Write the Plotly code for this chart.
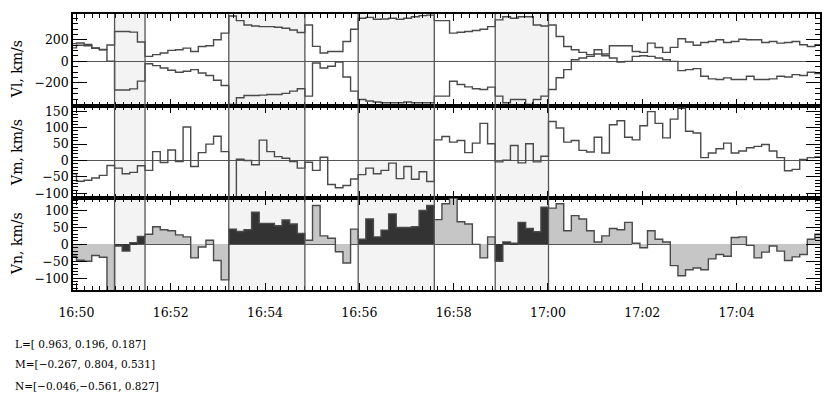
import numpy as np
import pandas as pd
import plotly.graph_objects as go
from plotly.subplots import make_subplots

# ---------------- data ----------------
T_START = "2000-01-01 16:49:50.45"   # start of first sample interval
DT_SEC = 9.686                        # sample interval (s)

vl_a = [165, 170, 158, 125, 110, 152,
        277, 277, 272, 180,
        46, 62, 77, 102, 108, 123, 92, 138, 145, 200, 262,
        421, 378, 338, 329, 323, 323, 317, 308, 292, 268,
        338, 139, 77, 92, 92, 185, 298,
        400, 409, 391, 394, 400, 391, 400, 415, 425, 430,
        378, 378, 262, 271, 277, 286, 298, 323,
        385, 415, 400, 415, 415, 338, 329,
        338, 231, 138, 108, 83, 62, 108, 68, 145, 145, 145, 92, 83, 169, 129, 83, 130, 210, 180, 150,
        175, 185, 200, 175, 185, 206, 200, 200, 175, 185, 169, 175, 185, 154, 138, 154]

vl_b = [125, 150, 145, 122, 108, 2,
        -267, -267, -256, -184,
        -22, -40, -62, -83, -102, -92, -77, -108, -132, -175, -225,
        -400, -338, -317, -317, -314, -308, -308, -298, -277, -255,
        -323, -15, -62, -46, -6, -145, -277,
        -354, -369, -378, -385, -385, -385, -378, -385, -385, -385,
        -323, -323, -185, -215, -237, -255, -262, -240,
        -323, -385, -354, -354, -400, -354, -323,
        -261, -153, -77, 15, 31, 46, 68, 52, 31, -6, 0, 46, 52, 46, 31, 15, 0, -86, -77, -68,
        -138, -163, -169, -154, -169, -169, -138, -169, -169, -163, -138, -145, -123, -132, -102, -114]

vm = [-40, -63, -60, -53, -45, -15,
      -23, -40, -36, -16,
      -30, 27, -6, 32, -3, 102, -18, 24, 50, 74, 27,
      -118, 4, 0, -13, 62, 27, 12, 7, -3, -23,
      -5, -30, 10, -73, -83, -76, -56,
      -43, -23, -40, -30, -8, -55, -18, -57, -34, -64,
      63, 73, 56, 61, 24, 53, 113, 51,
      -4, 1, 46, -7, 51, -4, 13,
      119, 99, 56, 61, 31, 26, 71, 23, 109, 121, 71, 63, 106, 149, 113, 69, 126, 159,
      89, 84, 9, 23, 36, 53, 23, 29, 39, 43, 49, 29, 9, -31, -27, 3, 9, 11]

vn = [-35, -47, -50, -33, -38, -140,
      -5, -20, 5, 23,
      30, 52, 43, 40, 28, 22, -40, -8, 12, -48, -105,
      45, 38, 43, 95, 62, 62, 55, 72, 60, 32,
      12, 115, 25, 18, -22, -55, 45,
      15, 75, 22, 42, 90, 50, 50, 52, 100, 115,
      73, 120, 137, 67, 60, 0, -40, 22,
      -50, 7, 3, 65, 47, 37, 110,
      107, 120, 40, 85, 75, 40, 7, 25, 47, 43, 65, 3, -10, 40, 15, 7, -63, -93,
      -75, -70, -75, -43, -30, -35, 20, 22, -3, -40, -23, -5, -20, -48, -37, -30, 15, 30]

# shaded intervals given as sample-index boundaries
SHADE_IDX = [(6, 10), (21, 31), (38, 48), (56, 63)]

X_RANGE = ["2000-01-01 16:49:55.67", "2000-01-01 17:05:46.1"]
Y_RANGES = [[-415, 440], [-114, 166], [-135, 137]]
Y_TICKS = [[-200, 0, 200], [-100, -50, 0, 50, 100, 150], [-100, -50, 0, 50, 100]]
Y_MINOR = [50, 10, 10]
Y_TITLES = ["Vl, km/s", "Vm, km/s", "Vn, km/s"]
LMN_TEXT = ["L=[ 0.963, 0.196, 0.187]",
            "M=[\u22120.267, 0.804, 0.531]",
            "N=[\u22120.046,\u22120.561, 0.827]"]

# ---------------- build ----------------
FONT = "DejaVu Serif"
LINE_C = "#4a4a4a"
n = len(vn)
t0 = pd.Timestamp(T_START)
edges = [t0 + pd.Timedelta(seconds=DT_SEC * i) for i in range(n + 1)]
centers = [t0 + pd.Timedelta(seconds=DT_SEC * (i + 0.5)) for i in range(n)]


def in_shade(i):
    return any(a <= i < b for a, b in SHADE_IDX)


fig = make_subplots(rows=3, cols=1, shared_xaxes=True, vertical_spacing=0)

step_kw = dict(mode="lines", line=dict(color=LINE_C, width=1.4, shape="hv"),
               showlegend=False, hoverinfo="skip")

fig.add_trace(go.Scatter(x=edges, y=vl_a + [vl_a[-1]], **step_kw), row=1, col=1)
fig.add_trace(go.Scatter(x=edges, y=vl_b + [vl_b[-1]], **step_kw), row=1, col=1)
fig.add_trace(go.Scatter(x=edges, y=vm + [vm[-1]], **step_kw), row=2, col=1)

bar_colors = ["#333333" if in_shade(i) else "#c6c6c6" for i in range(n)]
fig.add_trace(go.Bar(x=centers, y=vn, width=[DT_SEC * 1000] * n,
                     marker=dict(color=bar_colors, line=dict(width=0)),
                     showlegend=False, hoverinfo="skip"), row=3, col=1)
fig.add_trace(go.Scatter(x=edges, y=vn + [vn[-1]], **step_kw), row=3, col=1)

# shading + boundary lines
for a, b in SHADE_IDX:
    fig.add_shape(type="rect", xref="x", yref="paper", x0=edges[a], x1=edges[b],
                  y0=0, y1=1, fillcolor="#f3f3f3", line=dict(width=0), layer="below")
    for k in (a, b):
        fig.add_shape(type="line", xref="x", yref="paper", x0=edges[k], x1=edges[k],
                      y0=0, y1=1, line=dict(color="#555555", width=1.3), layer="above")

domains = [[2 / 3, 1.0], [1 / 3, 2 / 3], [0.0, 1 / 3]]
for r in range(3):
    xa = "xaxis" if r == 0 else f"xaxis{r + 1}"
    ya = "yaxis" if r == 0 else f"yaxis{r + 1}"
    fig.layout[xa].update(
        type="date", range=X_RANGE, showline=True, linecolor="black", linewidth=1.5,
        mirror="allticks", ticks="inside", ticklen=7, tickcolor="black", tickwidth=1,
        tick0="2000-01-01 16:50", dtick=120000, tickformat="%H:%M",
        showgrid=False, zeroline=False, showticklabels=(r == 2),
        ticklabelstandoff=10,
        tickfont=dict(family=FONT, size=12.5, color="black"),
        minor=dict(ticks="inside", ticklen=4, tickcolor="black", dtick=10000,
                   tick0="2000-01-01 16:50", showgrid=False))
    fig.layout[ya].update(
        domain=domains[r], range=Y_RANGES[r], showline=True, linecolor="black",
        linewidth=1.5, mirror="allticks", ticks="inside", ticklen=14, tickcolor="black",
        tickwidth=1, tickmode="array", tickvals=Y_TICKS[r], showgrid=False,
        zeroline=True, zerolinecolor="#555555", zerolinewidth=1,
        tickfont=dict(family=FONT, size=12.5, color="black"),
        minor=dict(ticks="inside", ticklen=5, tickcolor="black", tickmode="linear",
                   dtick=Y_MINOR[r], tick0=0, showgrid=False))

# y titles as annotations
title_y = [0.80, 0.50, 0.17]
for r in range(3):
    fig.add_annotation(text=Y_TITLES[r], xref="paper", yref="paper", x=-0.075, y=title_y[r],
                       textangle=-90, showarrow=False, xanchor="center", yanchor="middle",
                       font=dict(family=FONT, size=14, color="black"))

# LMN text below
text_y = [-0.196, -0.268, -0.348]
for s, yy in zip(LMN_TEXT, text_y):
    fig.add_annotation(text=s, xref="paper", yref="paper", x=-0.08, y=yy, showarrow=False,
                       xanchor="left", yanchor="middle",
                       font=dict(family=FONT, size=10.5, color="black"))

fig.update_layout(width=837, height=407, margin=dict(l=73, r=17, t=14, b=117),
                  plot_bgcolor="white", paper_bgcolor="white", bargap=0,
                  showlegend=False)

fig.write_html("out.html")
